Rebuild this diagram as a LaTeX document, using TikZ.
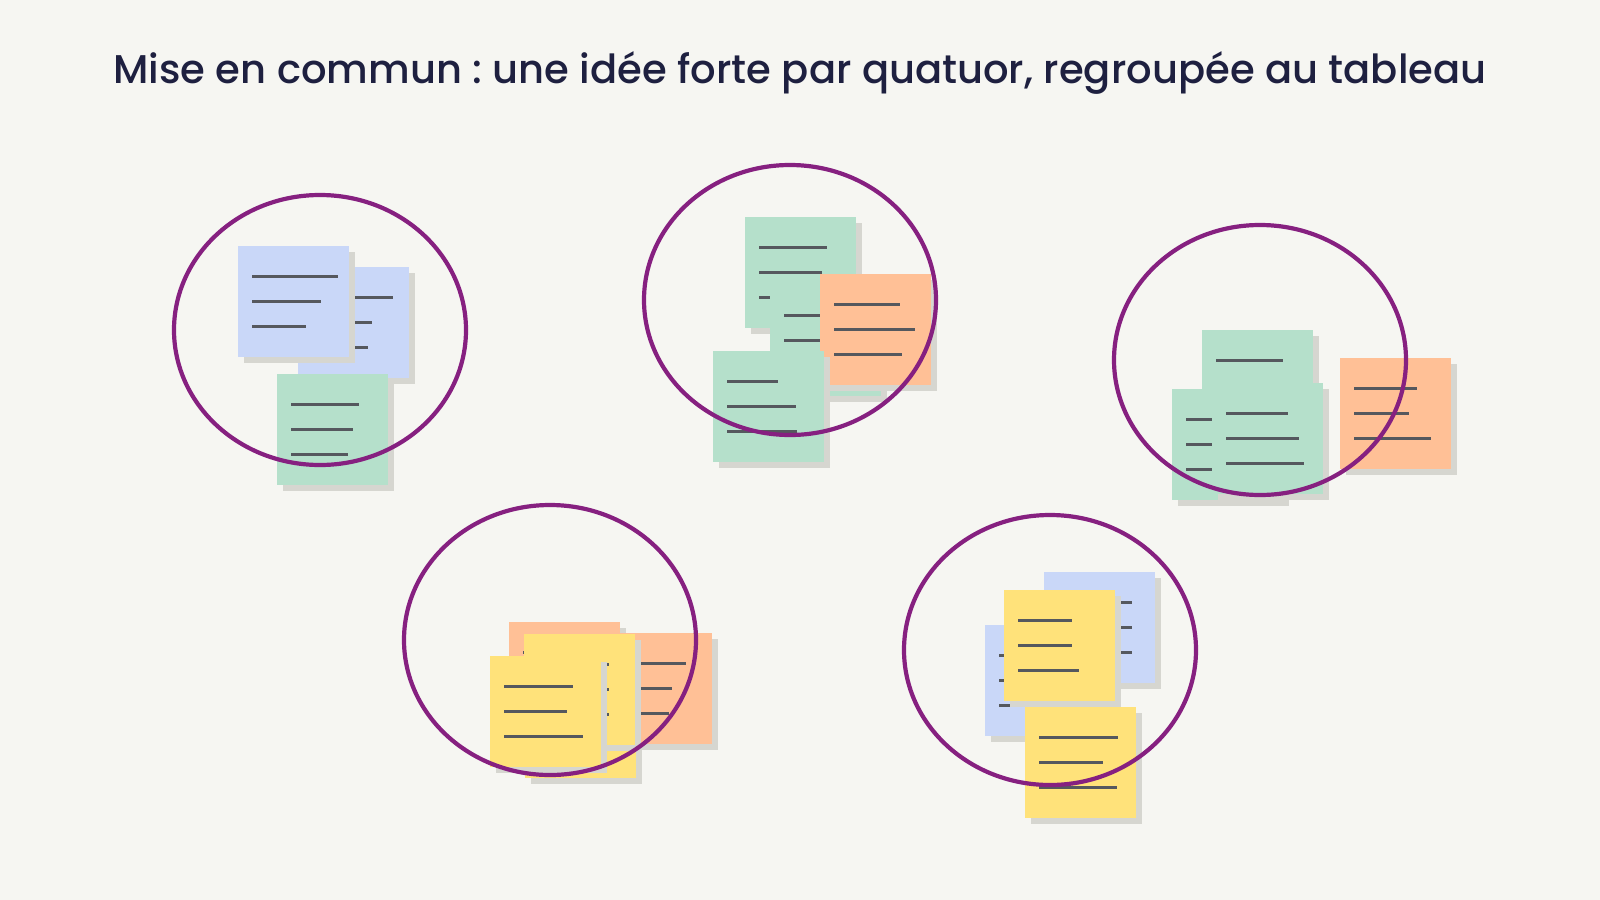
\documentclass[tikz,border=0pt]{standalone}
\usepackage{fontspec}
\setmainfont{Poppins}[UprightFont=* Medium]
\frenchspacing
\usepackage{tikz}
\usetikzlibrary{shadows}
\definecolor{paper}{RGB}{246, 246, 242}
\definecolor{ink}{RGB}{30, 32, 64}
\definecolor{bleu}{RGB}{201, 215, 248}
\definecolor{vert}{RGB}{181, 224, 203}
\definecolor{peche}{RGB}{255, 192, 150}
\definecolor{jaune}{RGB}{255, 226, 122}
\definecolor{ombre}{RGB}{214, 214, 208}
\definecolor{trait}{RGB}{85, 88, 94}
\definecolor{prune}{RGB}{134, 32, 128}

\tikzset{
  note/.style={anchor=north west, inner sep=0, minimum size=1.11cm,
    drop shadow={shadow xshift=0.06cm, shadow yshift=-0.06cm, fill=ombre, opacity=1}},
  ligne/.style={draw=trait, line width=0.03cm},
  cercle/.style={draw=prune, line width=0.042cm},
  titre/.style={text=ink, anchor=base, inner sep=0, font=\fontsize{11.4pt}{14pt}\selectfont}
}

\begin{document}
\begin{tikzpicture}[x=0.01cm, y=-0.01cm]
  \fill[paper] (0, 0) rectangle (1600, 900);

  \node[titre] (titre) at (800, 83) {Mise en commun : une idée forte par quatuor, regroupée au tableau};

  % notes, from back to front
  \foreach \nom/\x/\y/\couleur/\la/\lb/\lc in {b1a/297/266/bleu/81/60/56, b1b/237/245/bleu/86/69/54, v1/276/373/vert/68/62/57,
      v2a/744/216/vert/68/63/58, v2b/769/284/vert/70/72/60, o2/819/273/peche/66/81/68, v2c/712/350/vert/51/69/70,
      v3a/1201/329/vert/67/60/60, v3b/1171/388/vert/60/60/60, v3c/1211/382/vert/62/73/78, o3/1339/357/peche/63/55/77,
      o4a/508/621/peche/70/60/65, j4a/524/666/jaune/70/60/65, o4b/600/632/peche/71/57/54, j4b/523/633/jaune/71/71/71, j4c/489/655/jaune/69/63/79,
      b5a/1043/571/bleu/74/74/74, b5b/984/624/bleu/70/62/66, j5a/1003/589/jaune/54/54/61, j5b/1024/706/jaune/79/64/78} {
    \node[note, fill=\couleur] (\nom) at (\x, \y) {};
    \draw[ligne] ([shift={(15, 31)}]\nom.north west) -- ++(\la, 0);
    \draw[ligne] ([shift={(15, 56)}]\nom.north west) -- ++(\lb, 0);
    \draw[ligne] ([shift={(15, 81)}]\nom.north west) -- ++(\lc, 0);
  }

  % one ring per quatuor
  \foreach \x/\y in {320/330, 790/300, 1260/360, 550/640, 1050/650} {
    \draw[cercle] (\x, \y) ellipse [x radius=146, y radius=135];
  }

\end{tikzpicture}
\end{document}
